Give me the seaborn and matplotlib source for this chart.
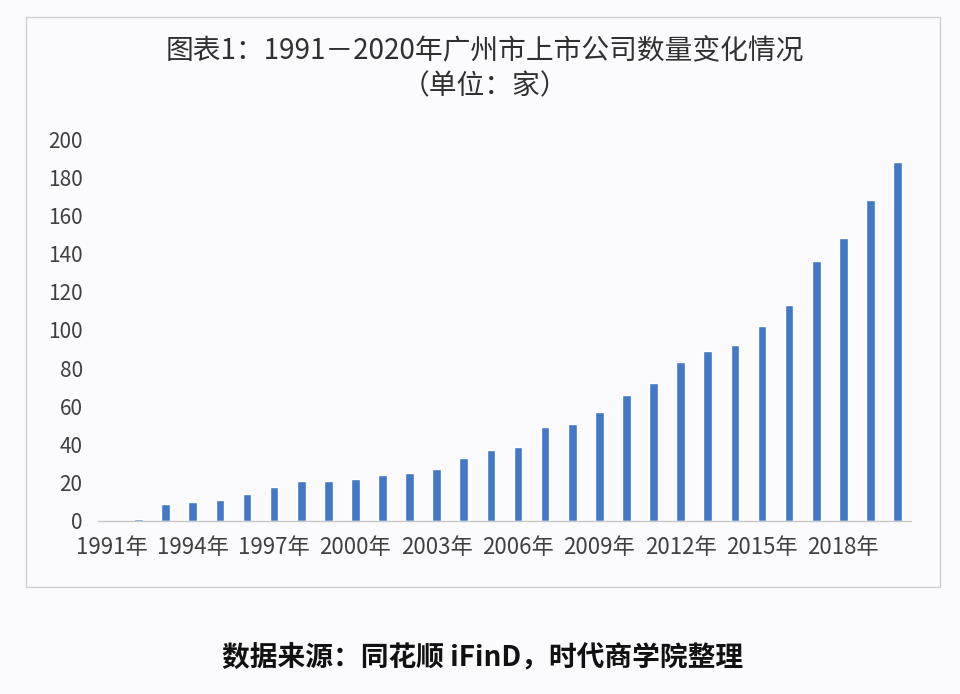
import numpy as np
import pandas as pd
import matplotlib
matplotlib.use("Agg")
import matplotlib.pyplot as plt
import seaborn as sns
from matplotlib.patches import Rectangle

years = [f"{y}年" for y in range(1991, 2021)]
counts = [0, 1, 9, 10, 11, 14, 18, 21, 21, 22, 24, 25, 27, 33, 37,
          39, 49, 51, 57, 66, 72, 83, 89, 92, 102, 113, 136, 148, 168, 188]
title_text = "图表1：1991－2020年广州市上市公司数量变化情况\n（单位：家）"
source_text = "数据来源：同花顺 iFinD，时代商学院整理"
yticks = [0, 20, 40, 60, 80, 100, 120, 140, 160, 180, 200]

sns.set_theme(style="white")
plt.rcParams['font.family'] = ['Noto Sans CJK SC', 'DejaVu Sans']

df = pd.DataFrame({"year": years, "count": counts})

fig = plt.figure(figsize=(9.6, 6.94), dpi=100)
fig.patch.set_facecolor("#fbfbfd")
ax = fig.add_axes([0.102, 0.2493, 0.847, 0.5504])
ax.set_facecolor("none")

sns.barplot(data=df, x="year", y="count", color="#4178C8", width=0.32,
            saturation=1, ax=ax)

ax.set_ylim(0, 200)
ax.set_xlim(-0.5, len(years) - 0.5)
ax.set_yticks(yticks)
ax.set_yticklabels([str(v) for v in yticks], fontsize=15, color="#404040")
ax.set_xticks(range(0, len(years), 3))
ax.set_xticklabels(years[::3], fontsize=16, color="#404040")
ax.tick_params(axis="both", length=0)
ax.tick_params(axis="x", pad=11)
ax.tick_params(axis="y", pad=11)
ax.set_xlabel("")
ax.set_ylabel("")
for s in ["top", "right", "left"]:
    ax.spines[s].set_visible(False)
ax.spines["bottom"].set_color("#c8c8c8")
ax.spines["bottom"].set_linewidth(1)

fig.patches.append(Rectangle((26 / 960, 1 - 587 / 694), (940 - 26) / 960,
                             (587 - 17) / 694, transform=fig.transFigure,
                             fill=False, edgecolor="#d0d0d0", linewidth=1))

fig.text(0.505, 1 - 69 / 694, title_text, ha="center", va="center",
         fontsize=20, color="#303030", linespacing=1.2)
fig.text(0.503, 1 - 657 / 694, source_text, ha="center", va="center",
         fontsize=20, fontweight="bold", color="#111111")

fig.savefig("out.png", dpi=100, facecolor=fig.get_facecolor())
